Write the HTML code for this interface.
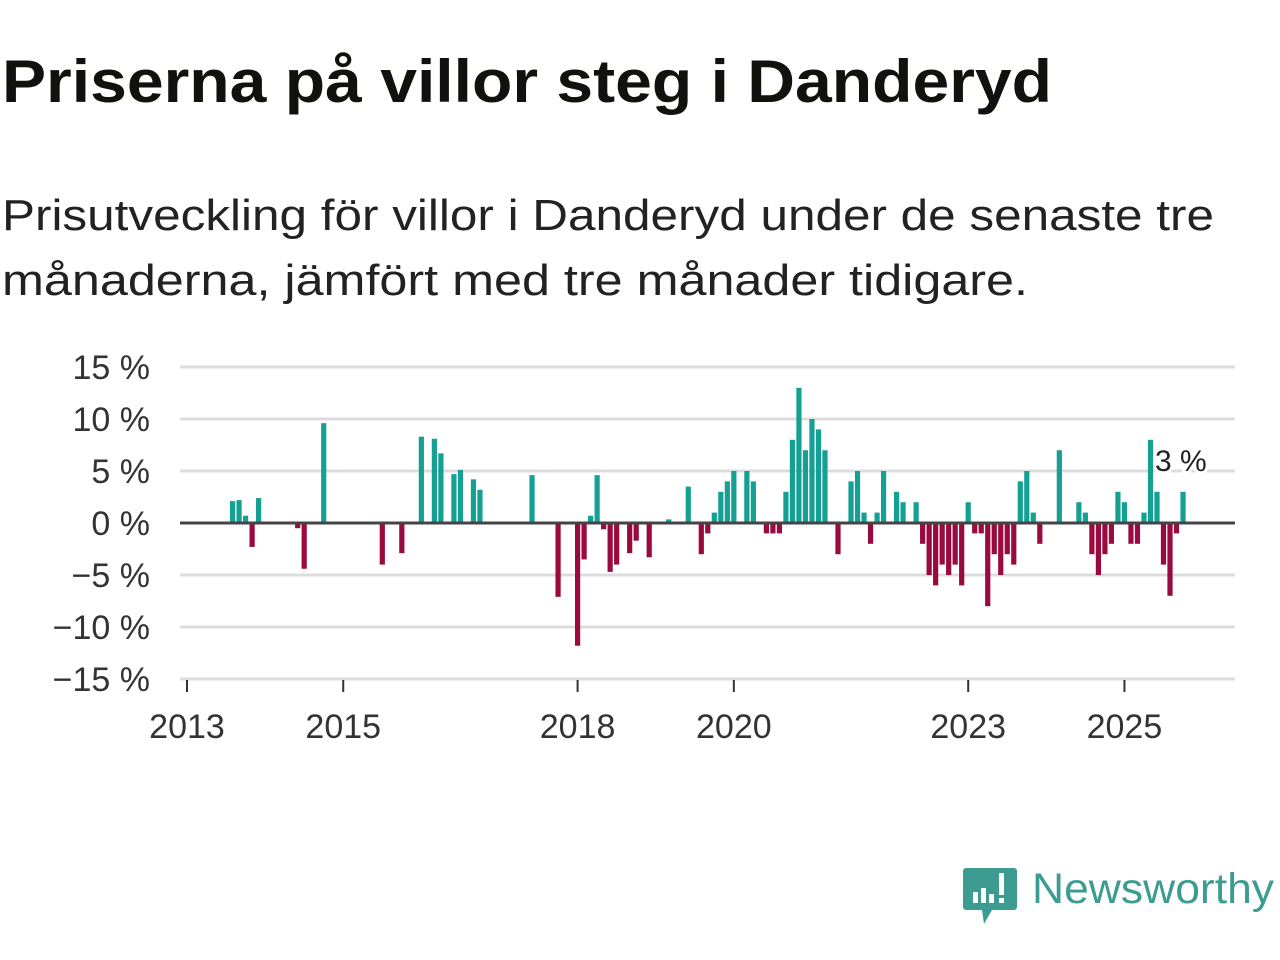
<!DOCTYPE html>
<html><head><meta charset="utf-8"><style>
html,body{margin:0;padding:0;background:#fff;}
svg{display:block;font-family:"Liberation Sans","DejaVu Sans",sans-serif;}
</style></head><body>
<svg id="chart" width="1280" height="960" viewBox="0 0 1280 960">
<text x="2" y="102" font-size="60" font-weight="bold" fill="#11110d" textLength="1050" lengthAdjust="spacingAndGlyphs">Priserna på villor steg i Danderyd</text>
<text x="2" y="230" font-size="44" fill="#222" textLength="1212" lengthAdjust="spacingAndGlyphs">Prisutveckling för villor i Danderyd under de senaste tre</text>
<text x="2" y="295" font-size="44" fill="#222" textLength="1026" lengthAdjust="spacingAndGlyphs">månaderna, jämfört med tre månader tidigare.</text>
<g id="grid"></g><g id="bars"></g><g id="axes"></g>
<g>
<path d="M966 868 h48 a3 3 0 0 1 3 3 v36 a3 3 0 0 1 -3 3 h-22 l-8 14 l-2 -14 h-16 a3 3 0 0 1 -3 -3 v-36 a3 3 0 0 1 3 -3z" fill="#3d9c92"/>
<rect x="973" y="892" width="5" height="11" fill="#fff"/><rect x="981" y="888" width="5" height="15" fill="#fff"/><rect x="989" y="894" width="5" height="9" fill="#fff"/><rect x="999" y="873" width="5" height="22" fill="#fff"/><rect x="999" y="898" width="5" height="5" fill="#fff"/>
<text x="1032" y="903" font-size="43" fill="#3d9c92" textLength="242" lengthAdjust="spacingAndGlyphs">Newsworthy</text>
</g>
</svg>
<script>
const months=[7,8,9,10,11,17,18,21,30,33,36,38,39,41,42,44,45,53,57,60,61,62,63,64,65,66,68,69,71,74,77,79,80,81,82,83,84,86,87,89,90,91,92,93,94,95,96,97,98,100,102,103,104,105,106,107,109,110,112,113,114,115,116,117,118,119,120,121,122,123,124,125,126,127,128,129,130,131,134,137,138,139,140,141,142,143,144,145,146,147,148,149,150,151,152,153];
const values=[2.1,2.2,0.7,-2.3,2.4,-0.5,-4.4,9.6,-4,-2.9,8.3,8.1,6.7,4.7,5.1,4.2,3.2,4.6,-7.1,-11.8,-3.5,0.7,4.6,-0.6,-4.7,-4,-2.9,-1.7,-3.3,0.35,3.5,-3,-1,1,3,4,5,5,4,-1,-1,-1,3,8,13,7,10,9,7,-3,4,5,1,-2,1,5,3,2,2,-2,-5,-6,-4,-5,-4,-6,2,-1,-1,-8,-3,-5,-3,-4,4,5,1,-2,7,2,1,-3,-5,-3,-2,3,2,-2,-2,1,8,3,-4,-7,-1,3];
const yTicks=[15,10,5,0,-5,-10,-15];
const yTickLabels=["15 %","10 %","5 %","0 %","−5 %","−10 %","−15 %"];
const xYears=[2013,2015,2018,2020,2023,2025];
const lastLabel="3 %";
const NS="http://www.w3.org/2000/svg";
const x0=187,pxMonth=6.51,y0=523,pxPct=10.4,left=180,right=1235;
const xs=m=>x0+m*pxMonth, ys=v=>y0-v*pxPct;
function mk(t,a,p){const e=document.createElementNS(NS,t);for(const k in a)e.setAttribute(k,a[k]);p.appendChild(e);return e;}
const grid=document.getElementById('grid'),bars=document.getElementById('bars'),axes=document.getElementById('axes');
yTicks.forEach((v,i)=>{
 if(v!==0){const l=mk('line',{x1:left,x2:right,y1:ys(v),y2:ys(v),stroke:'#dcdcdc','stroke-width':3},grid);
 
 }
 const t=mk('text',{x:150,y:ys(v)+12,'text-anchor':'end','font-size':34,fill:'#333'},axes);t.textContent=yTickLabels[i];
 
 
});
months.forEach((m,i)=>{
 const v=values[i];const y=Math.min(ys(v),y0),h=Math.abs(v)*pxPct;
 const r=mk('rect',{x:xs(m)-2.6,y:y,width:5.2,height:h,fill:v>=0?'#15a094':'#9a0a3e'},bars);
 
 
});
const z=mk('line',{x1:left,x2:right,y1:y0,y2:y0,stroke:'#444','stroke-width':3},axes);


const xa=mk('line',{x1:left,x2:right,y1:679,y2:679,stroke:'#ddd','stroke-width':1},axes);


xYears.forEach(yr=>{
 const x=xs((yr-2013)*12);
 const tk=mk('line',{x1:x,x2:x,y1:680,y2:692,stroke:'#333','stroke-width':2},axes);
 
 
 const t=mk('text',{x:x,y:738,'text-anchor':'middle','font-size':34,fill:'#333'},axes);t.textContent=yr;
 
 
});
const lm=months[months.length-1];
const lt=mk('text',{x:1155,y:471,'font-size':30,fill:'#222',stroke:'#fff','stroke-width':6,'paint-order':'stroke'},axes);
lt.textContent=lastLabel;


</script>
</body></html>
